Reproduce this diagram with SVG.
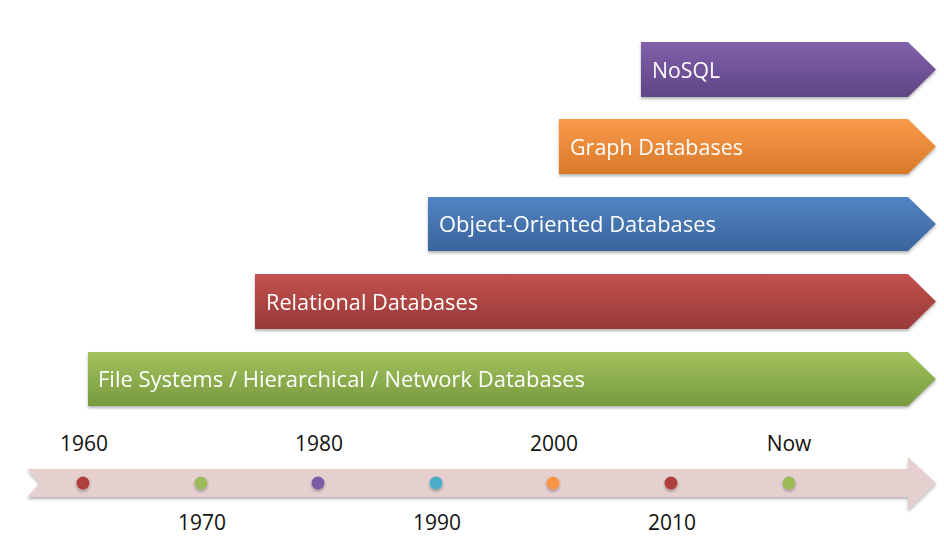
<svg xmlns="http://www.w3.org/2000/svg" width="944" height="544" viewBox="0 0 944 544">
<defs>
<linearGradient id="gPurple" x1="0" y1="0" x2="0" y2="1"><stop offset="0" stop-color="#8161ab"/><stop offset="1" stop-color="#5f4585"/></linearGradient>
<linearGradient id="gOrange" x1="0" y1="0" x2="0" y2="1"><stop offset="0" stop-color="#f99b4a"/><stop offset="1" stop-color="#d8792a"/></linearGradient>
<linearGradient id="gBlue" x1="0" y1="0" x2="0" y2="1"><stop offset="0" stop-color="#5184c2"/><stop offset="1" stop-color="#3a649c"/></linearGradient>
<linearGradient id="gRed" x1="0" y1="0" x2="0" y2="1"><stop offset="0" stop-color="#c4514d"/><stop offset="1" stop-color="#963a38"/></linearGradient>
<linearGradient id="gGreen" x1="0" y1="0" x2="0" y2="1"><stop offset="0" stop-color="#a2c25e"/><stop offset="1" stop-color="#789a3e"/></linearGradient>
<filter id="sh" x="-5%" y="-20%" width="110%" height="150%"><feDropShadow dx="0" dy="2" stdDeviation="1.5" flood-color="#000" flood-opacity="0.3"/></filter>
</defs>
<style>
.lbl{font-family:"Open Sans","Liberation Sans",Arial,sans-serif;font-size:21px;fill:#ffffff}
.yr{font-family:"Open Sans","Liberation Sans",Arial,sans-serif;font-size:21px;fill:#111111;text-anchor:middle}
</style>
<g id="nosql" filter="url(#sh)">
<path d="M641 42H908L936 69.5L908 97H641Z" fill="url(#gPurple)"/>
<text class="lbl" x="652" y="77.5" textLength="68" lengthAdjust="spacingAndGlyphs">NoSQL</text>
</g>
<g id="graph" filter="url(#sh)">
<path d="M559 119H908L936 146.5L908 174H559Z" fill="url(#gOrange)"/>
<text class="lbl" x="570" y="154.5" textLength="173" lengthAdjust="spacingAndGlyphs">Graph Databases</text>
</g>
<g id="oo" filter="url(#sh)">
<path d="M428 197H908L936 224L908 251H428Z" fill="url(#gBlue)"/>
<text class="lbl" x="439" y="232" textLength="277" lengthAdjust="spacingAndGlyphs">Object-Oriented Databases</text>
</g>
<g id="relational" filter="url(#sh)">
<path d="M255 274H908L936 301.5L908 329H255Z" fill="url(#gRed)"/>
<text class="lbl" x="266" y="309.5" textLength="212" lengthAdjust="spacingAndGlyphs">Relational Databases</text>
</g>
<g id="filesys" filter="url(#sh)">
<path d="M88 352H908L936 379L908 406H88Z" fill="url(#gGreen)"/>
<text class="lbl" x="98" y="387" textLength="487" lengthAdjust="spacingAndGlyphs">File Systems / Hierarchical / Network Databases</text>
</g>
<g id="timeline">
<path d="M27 469H908V457L936 483L908 510V497H27L40 483Z" fill="#e5cfcf" filter="url(#sh)"/>
<g filter="url(#sh)">
<circle cx="83" cy="483" r="6.5" fill="#b0403d"/>
<circle cx="201" cy="483" r="6.5" fill="#9bbb59"/>
<circle cx="318" cy="483" r="6.5" fill="#7a5aa3"/>
<circle cx="436" cy="483" r="6.5" fill="#4bacc6"/>
<circle cx="553" cy="483" r="6.5" fill="#f79646"/>
<circle cx="671" cy="483" r="6.5" fill="#b0403d"/>
<circle cx="789" cy="483" r="6.5" fill="#9bbb59"/>
</g>
<text class="yr" x="84" y="451">1960</text>
<text class="yr" x="319" y="451">1980</text>
<text class="yr" x="554" y="451">2000</text>
<text class="yr" x="789" y="451">Now</text>
<text class="yr" x="202" y="530">1970</text>
<text class="yr" x="437" y="530">1990</text>
<text class="yr" x="672" y="530">2010</text>
</g>
</svg>
